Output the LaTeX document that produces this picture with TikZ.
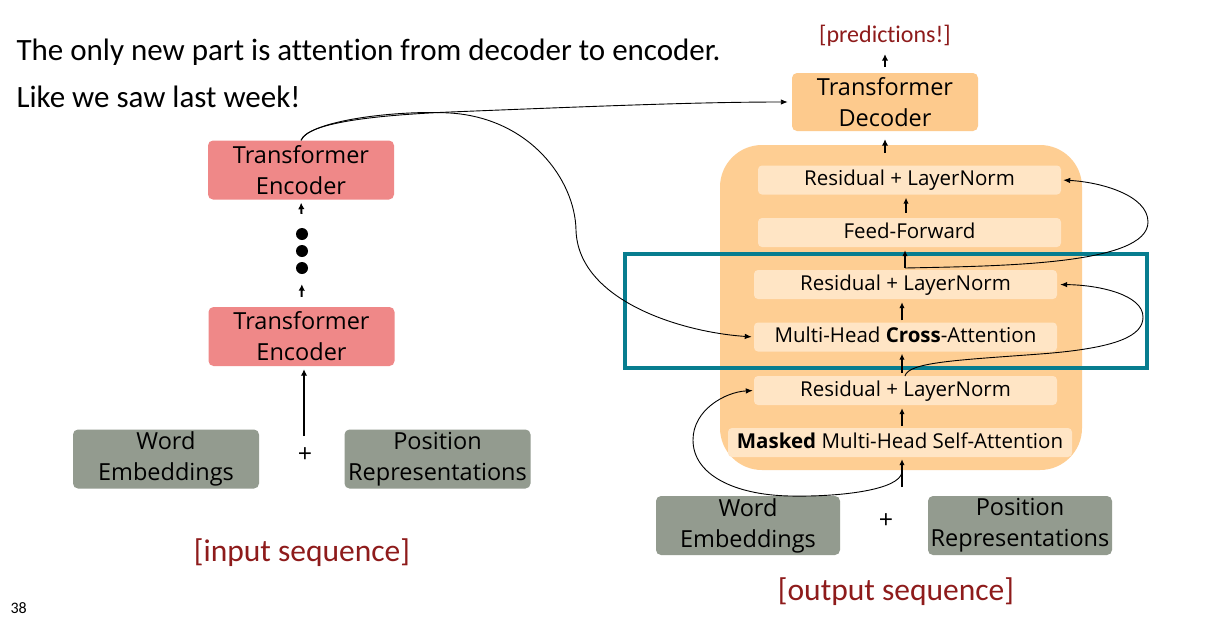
\documentclass[tikz,border=0pt]{standalone}
\usepackage{fontspec}
\setmainfont{Carlito}[Ligatures=NoCommon]
\newfontfamily\boxfont{Open Sans}
\usetikzlibrary{arrows.meta,calc}
\definecolor{encred}{HTML}{EF8888}
\definecolor{grayb}{HTML}{939B8F}
\definecolor{decor}{HTML}{FDCA8D}
\definecolor{stackor}{HTML}{FECE93}
\definecolor{innerb}{HTML}{FFE5C5}
\definecolor{darkredt}{HTML}{8E1B1B}
\definecolor{tealb}{HTML}{077D8F}
\tikzset{
  bigbox/.style={rounded corners=5, minimum width=186, minimum height=59, inner sep=0, align=center,
    font=\boxfont\fontsize{23.5}{31}\selectfont},
  encbox/.style={bigbox, fill=encred},
  embbox/.style={bigbox, fill=grayb},
  decbox/.style={bigbox, fill=decor, minimum height=58},
  layerbox/.style={fill=innerb, rounded corners=4, minimum width=303, minimum height=29, inner sep=0,
    text height=15.5, text depth=4.5,
    font=\boxfont\fontsize{20.5}{24}\selectfont},
  dotn/.style={circle, fill=black, minimum size=12, inner sep=0},
  arr/.style={-{Latex[length=6,width=5.5]}, line width=1.3},
  boldarr/.style={-{Latex[length=6.5,width=6.5]}, line width=2},
  curvearr/.style={-{Latex[length=7,width=5.5]}, line width=0.9},
  seqlabel/.style={text=darkredt, font=\fontsize{31.5}{36}\selectfont},
  plusn/.style={font=\boxfont\fontsize{25}{28}\selectfont},
}
\begin{document}
\begin{tikzpicture}[x=1pt,y=-1pt]
\useasboundingbox[fill=white] (0,0) rectangle (1213,622);

% title text
\node[anchor=west, font=\fontsize{31}{36}\selectfont] (t1) at (13,52) {The only new part is attention from decoder to encoder.};
\node[anchor=west, font=\fontsize{31}{36}\selectfont] (t2) at (13,97) {Like we saw last week!};
\node[anchor=west, font=\fontsize{16}{18}\selectfont] (pg) at (7,608) {38};

% encoder side
\node[encbox] (enc1) at (301,170) {Transformer\\Encoder};
\node[encbox] (enc2) at (301.5,336.5) {Transformer\\Encoder};
\node[dotn] (d1) at (302,234) {};
\node[dotn] (d2) at (302,251) {};
\node[dotn] (d3) at (302,268) {};
\node[embbox] (we1) at (166,459) {Word\\Embeddings};
\node[embbox] (pr1) at (437.5,459) {Position\\Representations};
\node[plusn] (plus1) at (305,455) {+};
\node[seqlabel] (inseq) at (302,553) {[input sequence]};
\coordinate (in1) at (304,436);

\draw[boldarr, shorten <=14, shorten >=3] (d1.north) -- (enc1.south);
\draw[boldarr, shorten <=10, shorten >=10] (enc2.north) -- (d3.south);
\draw[boldarr, shorten >=3] (in1) -- (in1 |- enc2.south);

% decoder side
\node[font=\fontsize{24}{28}\selectfont, text=darkredt] (pred) at (885,36) {[predictions!]};
\node[decbox] (dec) at (885,102) {Transformer\\Decoder};
\fill[stackor, rounded corners=42] (720,145) rectangle (1082,470);
\coordinate (stacktop) at (885,153);
\draw[boldarr, shorten >=8] (stacktop) -- (dec.south);
\draw[boldarr, shorten <=6, shorten >=4] (dec.north) -- (pred.south);

\node[layerbox] (rln3) at (909.5,180) {Residual + LayerNorm};
\node[layerbox] (ff) at (909.5,232.5) {Feed-Forward};
\node[layerbox] (rln2) at (905.5,284.5) {Residual + LayerNorm};
\node[layerbox] (cross) at (905.5,337) {Multi-Head \textbf{Cross}-Attention};
\node[layerbox] (rln1) at (905.5,390.5) {Residual + LayerNorm};
\node[layerbox, minimum width=344] (masked) at (900,442.5) {\textbf{Masked} Multi-Head Self-Attention};

\node[embbox, minimum width=184] (we2) at (748,525.5) {Word\\Embeddings};
\node[embbox, minimum width=184] (pr2) at (1020,525.5) {Position\\Representations};
\node[plusn] (plus2) at (886,521) {+};
\node[seqlabel] (outseq) at (896,592) {[output sequence]};

% teal highlight
\draw[tealb, line width=4.5] (625,254) rectangle (1147,368);

% internal arrows
\draw[arr, shorten <=5, shorten >=3] ([xshift=-3.5]ff.north) -- ([xshift=-3.5]rln3.south);
\draw[arr, shorten <=2, shorten >=3] ([xshift=-0.5]rln2.north) -- ([xshift=-0.5]rln2.north |- ff.south);
\draw[arr, shorten <=2, shorten >=3] ([xshift=-3.5]cross.north) -- ([xshift=-3.5]rln2.south);
\draw[arr, shorten <=3, shorten >=2] ([xshift=-3.5]rln1.north) -- ([xshift=-3.5]cross.south);
\draw[arr, shorten <=2, shorten >=3] ([xshift=2]masked.north) -- ([xshift=2]masked.north |- rln1.south);
\coordinate (in2) at (902,487);
\draw[arr, shorten >=2] (in2) -- (in2 |- masked.south);

% residual connections
\coordinate (sbr) at (902,472);
\draw[curvearr, shorten >=1] (sbr) .. controls (900,490) and (840,497) .. (790,496)
  .. controls (735,495) and (693,475) .. (693,440)
  .. controls (693,410) and (725,392) .. (rln1.west);
\coordinate (cbr) at (905,376);
\draw[curvearr, shorten >=3] (cbr) .. controls (908,362) and (960,360) .. (1040,354)
  .. controls (1120,348) and (1143,335) .. (1143,317)
  .. controls (1143,295) and (1100,285) .. (rln2.east);
\coordinate (fbr) at (905,268);
\draw[curvearr, shorten >=2] (fbr) .. controls (1000,266) and (1148,265) .. (1148,222)
  .. controls (1148,195) and (1100,182) .. (rln3.east);

% encoder to decoder
\draw[curvearr, shorten >=4] (enc1.north) .. controls (308,122) and (380,115) .. (450,112)
  .. controls (600,106) and (700,102) .. (dec.west);
\draw[curvearr, shorten >=2] (enc1.north) .. controls (310,120) and (400,110) .. (450,113)
  .. controls (530,118) and (575,180) .. (576,230)
  .. controls (578,300) and (680,332) .. (cross.west);
\end{tikzpicture}
\end{document}
